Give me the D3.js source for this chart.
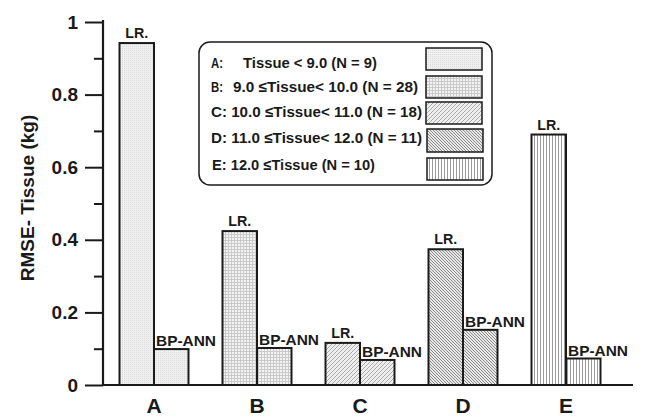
<!DOCTYPE html>
<html><head><meta charset="utf-8">
<script src="https://cdn.jsdelivr.net/npm/d3@7"></script>
<style>body{margin:0;background:#fff}svg{display:block}text{font-family:"Liberation Sans",Arial,sans-serif;font-weight:bold;fill:#1a1a1a}</style>
</head><body>
<svg id="c" width="656" height="417"></svg>
<script>
const categories = ["A","B","C","D","E"];
const lrValues = [0.942, 0.424, 0.116, 0.374, 0.690];
const annValues = [0.099, 0.102, 0.069, 0.152, 0.073];
const majorTicks = [0, 0.2, 0.4, 0.6, 0.8, 1];
const minorTicks = [0.1, 0.3, 0.5, 0.7, 0.9];
const tickLabels = ["0","0.2","0.4","0.6","0.8","1"];
const legendPrefix = ["A:", "B:", "", "", ""];
const legendText = [
  "Tissue < 9.0 (N = 9)",
  "9.0 \u2264Tissue< 10.0 (N = 28)",
  "C: 10.0 \u2264Tissue< 11.0 (N = 18)",
  "D: 11.0 \u2264Tissue< 12.0 (N = 11)",
  "E: 12.0 \u2264Tissue (N = 10)"
];
const yTitle = "RMSE- Tissue (kg)";

const svg = d3.select("#c");
const defs = svg.append("defs");
function pat(id, w, h, bg, draw){
  const p = defs.append("pattern").attr("id", id).attr("patternUnits","userSpaceOnUse").attr("width", w).attr("height", h);
  p.append("rect").attr("width", w).attr("height", h).attr("fill", bg);
  draw(p);
}
pat("pA", 2, 2, "#efefef", p => {
  p.append("rect").attr("x",0).attr("y",0).attr("width",1).attr("height",1).attr("fill","#dedede");
});
pat("pB", 3, 3, "#f3f3f3", p => {
  p.append("rect").attr("x",0).attr("y",0).attr("width",3).attr("height",1).attr("fill","#cacaca");
  p.append("rect").attr("x",0).attr("y",0).attr("width",1).attr("height",3).attr("fill","#cacaca");
});
pat("pC", 4, 4, "#efefef", p => {
  p.append("path").attr("d","M-1,5 L5,-1 M-1,1 L1,-1 M3,5 L5,3").attr("stroke","#a8a8a8").attr("stroke-width",1);
});
pat("pD", 3, 3, "#e6e6e6", p => {
  p.append("path").attr("d","M-1,-1 L4,4 M-1,2 L1,4 M2,-1 L4,1").attr("stroke","#8f8f8f").attr("stroke-width",1);
});
pat("pE", 3, 3, "#ffffff", p => {
  p.append("rect").attr("x",0).attr("y",0).attr("width",1).attr("height",3).attr("fill","#9a9a9a");
});
const fills = ["url(#pA)","url(#pB)","url(#pC)","url(#pD)","url(#pE)"];

const y = d3.scaleLinear().domain([0,1]).range([385, 22]);
const x = d3.scaleBand().domain(categories).range([102.5, 617.5]);
const bw = 34.5;

const gy = svg.append("g").attr("transform","translate(103,0)");
gy.call(d3.axisLeft(y).tickValues(majorTicks).tickSize(18).tickFormat((d,i)=>tickLabels[i]));
gy.select(".domain").remove();
gy.selectAll(".tick line").attr("stroke","#1a1a1a").attr("stroke-width",2);
gy.selectAll(".tick text").attr("x",-25).attr("font-size","19px").attr("font-family","Liberation Sans, Arial, sans-serif").attr("font-weight","bold").attr("fill","#1a1a1a");
const gm = svg.append("g").attr("transform","translate(103,0)");
gm.call(d3.axisLeft(y).tickValues(minorTicks).tickSize(9).tickFormat(""));
gm.select(".domain").remove();
gm.selectAll(".tick line").attr("stroke","#1a1a1a").attr("stroke-width",2);

const g = svg.append("g");
categories.forEach((c,i)=>{
  const cx = x(c) + x.bandwidth()/2;
  g.append("rect").attr("x", cx-bw).attr("y", y(lrValues[i])).attr("width", bw).attr("height", y(0)-y(lrValues[i]))
    .attr("fill", fills[i]).attr("stroke","#1a1a1a").attr("stroke-width",2);
  g.append("rect").attr("x", cx).attr("y", y(annValues[i])).attr("width", bw).attr("height", y(0)-y(annValues[i]))
    .attr("fill", fills[i]).attr("stroke","#1a1a1a").attr("stroke-width",2);
  g.append("text").attr("x", cx-bw/2-11.5).attr("y", y(lrValues[i])-5).attr("font-size","15px")
    .attr("textLength",23).attr("lengthAdjust","spacingAndGlyphs").text("LR.");
  g.append("text").attr("x", cx+2).attr("y", y(annValues[i])-3).attr("font-size","15px")
    .attr("textLength",60).attr("lengthAdjust","spacingAndGlyphs").text("BP-ANN");
  svg.append("text").attr("x", cx).attr("y", 413).attr("text-anchor","middle").attr("font-size","21px").text(c);
});

svg.append("line").attr("x1",103).attr("x2",103).attr("y1",20).attr("y2",386).attr("stroke","#1a1a1a").attr("stroke-width",2.2);
svg.append("line").attr("x1",102).attr("x2",633).attr("y1",385).attr("y2",385).attr("stroke","#1a1a1a").attr("stroke-width",2.2);

svg.append("text").attr("transform","translate(34,198) rotate(-90)").attr("text-anchor","middle").attr("font-size","19px").text(yTitle);

svg.append("rect").attr("x",199).attr("y",42).attr("width",293).attr("height",143).attr("rx",11)
  .attr("fill","#fff").attr("stroke","#1a1a1a").attr("stroke-width",1.5);
const rowBase = [68, 92, 117, 143, 170];
const swY = [48, 76, 102, 129, 158];
const swH = [22, 22, 22, 23, 22];
const textX = [243, 233, 211, 211, 212];
const textW = [134, 185, 211, 211, 163];
legendText.forEach((t,i)=>{
  if(legendPrefix[i]) svg.append("text").attr("x", 211).attr("y", rowBase[i]).attr("font-size","15px")
    .attr("textLength",12).attr("lengthAdjust","spacingAndGlyphs").text(legendPrefix[i]);
  svg.append("text").attr("x", textX[i]).attr("y", rowBase[i]).attr("font-size","15px")
    .attr("textLength", textW[i]).attr("lengthAdjust","spacingAndGlyphs").text(t);
  svg.append("rect").attr("x", i>=3?427:426).attr("y", swY[i]).attr("width",56).attr("height",swH[i])
    .attr("fill", fills[i]).attr("stroke","#1a1a1a").attr("stroke-width",1.5);
});
</script>
</body></html>
